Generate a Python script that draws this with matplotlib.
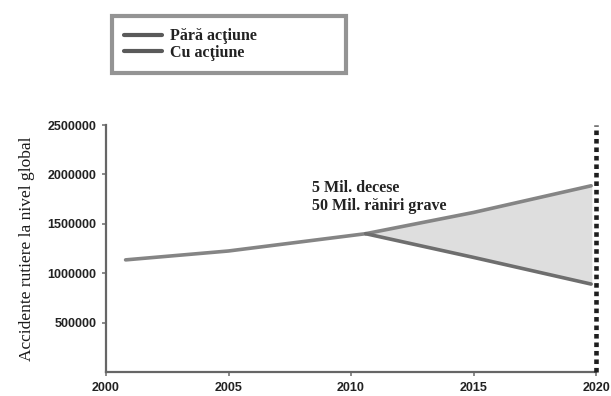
import numpy as np
import matplotlib.pyplot as plt

# common trend until the split
years_common = [2000.8, 2005, 2010.6]
vals_common = [1135000, 1225000, 1400000]

# after the split
years_after = [2010.6, 2015, 2019.8]
fara_actiune = [1400000, 1615000, 1885000]
cu_actiune = [1400000, 1160000, 890000]

xticks = [2000, 2005, 2010, 2015, 2020]
yticks = [500000, 1000000, 1500000, 2000000, 2500000]

fig = plt.figure(figsize=(6.11, 3.96), dpi=100)
ax = fig.add_axes([0.1735, 0.0606, 0.802, 0.6237])

ax.fill_between(years_after, cu_actiune, fara_actiune, color='#dedede', zorder=1)
ax.plot(years_common, vals_common, '-', color='#858585', lw=2.6, zorder=2,
        solid_capstyle='round')
l1, = ax.plot(years_after, fara_actiune, '-', color='#858585', lw=2.6, zorder=2,
              solid_capstyle='round')
l2, = ax.plot(years_after, cu_actiune, '-', color='#6e6e6e', lw=2.6, zorder=2,
              solid_capstyle='round')

# 2020 target marker line
ax.axvline(2020, color='#1e1e1e', lw=3.3, ls=(0, (1.0, 0.85)),
           dash_capstyle='butt', zorder=3, clip_on=False)

ax.set_xlim(2000, 2020)
ax.set_ylim(0, 2500000)
ax.set_xticks(xticks)
ax.set_yticks(yticks)
ax.set_xticklabels([str(x) for x in xticks])
ax.set_yticklabels([str(y) for y in yticks])
for lab in ax.get_xticklabels() + ax.get_yticklabels():
    lab.set_fontfamily('Liberation Sans')
    lab.set_fontweight('bold')
    lab.set_fontsize(9)
    lab.set_color('#222222')
ax.tick_params(axis='both', length=3, width=1.2, color='#777777', pad=4)

ax.spines['top'].set_visible(False)
ax.spines['right'].set_visible(False)
ax.spines['left'].set_color('#666666')
ax.spines['bottom'].set_color('#666666')
ax.spines['left'].set_linewidth(1.6)
ax.spines['bottom'].set_linewidth(1.6)

ax.set_ylabel('Accidente rutiere la nivel global', family='Liberation Serif',
              fontsize=12.5, color='#1a1a1a', labelpad=9)

ax.text(2008.4, 1862000, '5 Mil. decese', family='Liberation Serif',
        fontweight='bold', fontsize=11.5, color='#222222', va='center')
ax.text(2008.4, 1680000, '50 Mil. răniri grave', family='Liberation Serif',
        fontweight='bold', fontsize=11.5, color='#222222', va='center')

leg = fig.legend([l1, l2], ['Pără acţiune', 'Cu acţiune'],
                 bbox_to_anchor=(112/611, 1-72/396, 234/611, 55/396),
                 loc='center left', mode='expand', frameon=True, fancybox=False,
                 prop={'family': 'Liberation Serif', 'weight': 'bold', 'size': 11.5},
                 handlelength=2.4, handletextpad=0.5, borderpad=0.75,
                 labelspacing=0.05, borderaxespad=0)
for h in leg.legend_handles:
    h.set_color('#5a5a5a')
    h.set_linewidth(3)
leg.get_frame().set_edgecolor('#7a7a7a')
leg.get_frame().set_linewidth(3)
for t in leg.get_texts():
    t.set_color('#222222')

fig.savefig('out.png', dpi=100)
